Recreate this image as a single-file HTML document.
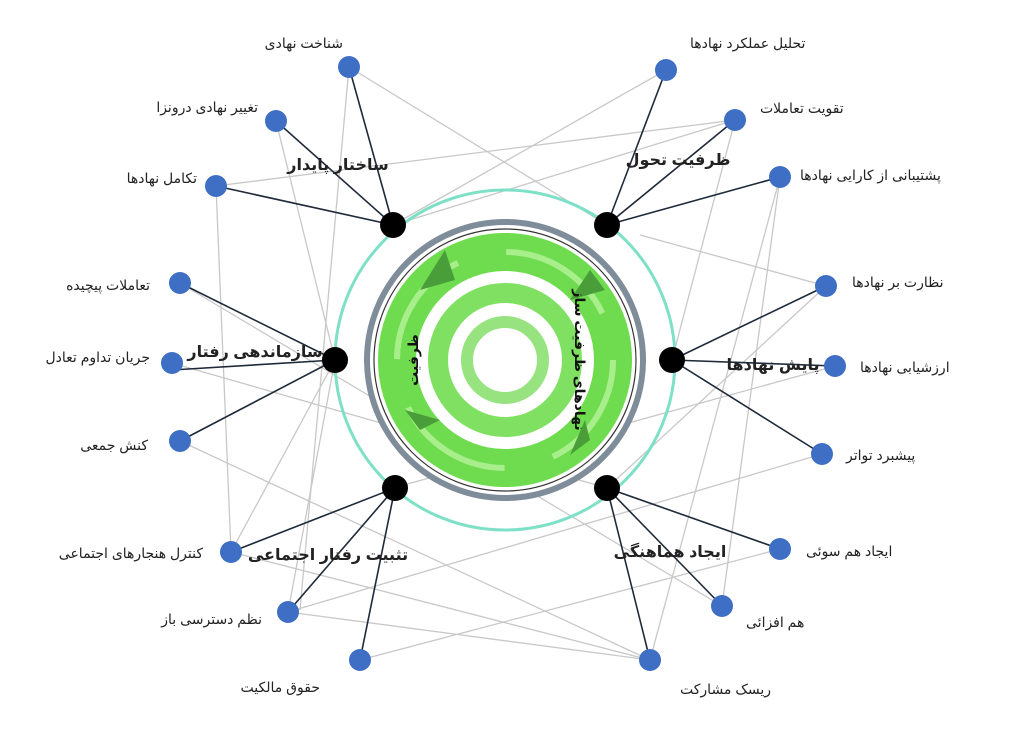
<!DOCTYPE html>
<html><head><meta charset="utf-8"><style>
body{margin:0;background:#fff;width:1024px;height:740px;overflow:hidden}
svg text{font-family:"Liberation Sans","DejaVu Sans",sans-serif;fill:#222}
</style></head><body>
<svg width="1024" height="740" viewBox="0 0 1024 740" xmlns="http://www.w3.org/2000/svg">
<g stroke="#c8c8c8" stroke-width="1.3">
<line x1="349" y1="67" x2="607" y2="225"/>
<line x1="666" y1="70" x2="393" y2="225"/>
<line x1="216" y1="186" x2="735" y2="120"/>
<line x1="735" y1="120" x2="393" y2="225"/>
<line x1="216" y1="186" x2="231" y2="552"/>
<line x1="276" y1="121" x2="335" y2="360"/>
<line x1="349" y1="67" x2="300" y2="610"/>
<line x1="735" y1="120" x2="672" y2="360"/>
<line x1="780" y1="177" x2="722" y2="606"/>
<line x1="780" y1="177" x2="650" y2="660"/>
<line x1="826" y1="286" x2="607" y2="488"/>
<line x1="640" y1="235" x2="826" y2="286"/>
<line x1="822" y1="454" x2="288" y2="612"/>
<line x1="835" y1="366" x2="393" y2="488"/>
<line x1="180" y1="283" x2="722" y2="606"/>
<line x1="180" y1="441" x2="650" y2="660"/>
<line x1="172" y1="363" x2="607" y2="488"/>
<line x1="335" y1="360" x2="231" y2="552"/>
<line x1="335" y1="360" x2="288" y2="612"/>
<line x1="288" y1="612" x2="650" y2="660"/>
<line x1="360" y1="660" x2="780" y2="549"/>
<line x1="231" y1="552" x2="650" y2="660"/>
</g>
<g stroke="#1e2a3a" stroke-width="1.6">
<line x1="393" y1="225" x2="349" y2="67"/><line x1="393" y1="225" x2="276" y2="121"/><line x1="393" y1="225" x2="216" y2="186"/>
<line x1="607" y1="225" x2="666" y2="70"/><line x1="607" y1="225" x2="735" y2="120"/><line x1="607" y1="225" x2="780" y2="177"/>
<line x1="335" y1="360" x2="180" y2="283"/><line x1="335" y1="360" x2="172" y2="370"/><line x1="335" y1="360" x2="180" y2="441"/>
<line x1="672" y1="360" x2="826" y2="286"/><line x1="672" y1="360" x2="835" y2="366"/><line x1="672" y1="360" x2="822" y2="454"/>
<line x1="395" y1="488" x2="231" y2="552"/><line x1="395" y1="488" x2="288" y2="612"/><line x1="395" y1="488" x2="360" y2="660"/>
<line x1="607" y1="488" x2="780" y2="549"/><line x1="607" y1="488" x2="722" y2="606"/><line x1="607" y1="488" x2="650" y2="660"/>
</g>
<circle cx="505" cy="360" r="170" fill="none" stroke="#7fe0c8" stroke-width="3"/>
<circle cx="505" cy="360" r="138" fill="#fff" stroke="#7f8c99" stroke-width="6"/>
<circle cx="505" cy="360" r="131" fill="none" stroke="#333" stroke-width="1.2"/>
<circle cx="505" cy="360" r="108" fill="none" stroke="#6fdc4f" stroke-width="38"/>
<circle cx="505" cy="360" r="67" fill="none" stroke="#7fe062" stroke-width="20"/>
<circle cx="505" cy="360" r="38" fill="none" stroke="#96e37f" stroke-width="12"/>
<circle cx="505" cy="360" r="108" fill="none" stroke="#a8ef8c" stroke-width="6" stroke-dasharray="120 50"/>
<g fill="#4a9e3a"><polygon points="420,290 445,250 455,280"/><polygon points="590,270 605,290 570,300"/><polygon points="590,440 570,455 585,420"/><polygon points="420,430 405,410 440,420"/></g>
<text x="418" y="360" font-size="14" font-weight="bold" transform="rotate(-90 418 360)" text-anchor="middle" style="fill:#111">ظرفیت</text>
<text x="575" y="360" font-size="14" font-weight="bold" transform="rotate(90 575 360)" text-anchor="middle" style="fill:#111">نهادهای ظرفیت ساز</text>
<g fill="#000">
<circle cx="393" cy="225" r="13"/><circle cx="607" cy="225" r="13"/><circle cx="335" cy="360" r="13"/>
<circle cx="672" cy="360" r="13"/><circle cx="395" cy="488" r="13"/><circle cx="607" cy="488" r="13"/>
</g>
<g fill="#3f6fc4">
<circle cx="349" cy="67" r="11"/><circle cx="276" cy="121" r="11"/><circle cx="216" cy="186" r="11"/>
<circle cx="180" cy="283" r="11"/><circle cx="172" cy="363" r="11"/><circle cx="180" cy="441" r="11"/>
<circle cx="231" cy="552" r="11"/><circle cx="288" cy="612" r="11"/><circle cx="360" cy="660" r="11"/>
<circle cx="666" cy="70" r="11"/><circle cx="735" cy="120" r="11"/><circle cx="780" cy="177" r="11"/>
<circle cx="826" cy="286" r="11"/><circle cx="835" cy="366" r="11"/><circle cx="822" cy="454" r="11"/>
<circle cx="780" cy="549" r="11"/><circle cx="722" cy="606" r="11"/><circle cx="650" cy="660" r="11"/>
</g>
<g font-size="14" text-anchor="end">
<text x="343" y="48">شناخت نهادی</text>
<text x="258" y="112">تغییر نهادی درونزا</text>
<text x="197" y="183">تکامل نهادها</text>
<text x="150" y="290">تعاملات پیچیده</text>
<text x="150" y="362">جریان تداوم تعادل</text>
<text x="148" y="450">کنش جمعی</text>
<text x="203" y="558">کنترل هنجارهای اجتماعی</text>
<text x="262" y="624">نظم دسترسی باز</text>
<text x="320" y="692">حقوق مالکیت</text>
</g>
<g font-size="14" text-anchor="start">
<text x="690" y="48">تحلیل عملکرد نهادها</text>
<text x="760" y="113">تقویت تعاملات</text>
<text x="800" y="180">پشتیبانی از کارایی نهادها</text>
<text x="852" y="287">نظارت بر نهادها</text>
<text x="860" y="372">ارزشیابی نهادها</text>
<text x="846" y="460">پیشبرد تواتر</text>
<text x="806" y="556">ایجاد هم سوئی</text>
<text x="746" y="627">هم افزائی</text>
<text x="680" y="694">ریسک مشارکت</text>
</g>
<g font-size="16" font-weight="bold" text-anchor="middle" style="fill:#111">
<text x="338" y="170">ساختار پایدار</text>
<text x="678" y="165">ظرفیت تحول</text>
<text x="255" y="357">سازماندهی رفتار</text>
<text x="773" y="370">پایش نهادها</text>
<text x="328" y="560">تثبیت رفتار اجتماعی</text>
<text x="670" y="557">ایجاد هماهنگی</text>
</g>
</svg>
</body></html>
